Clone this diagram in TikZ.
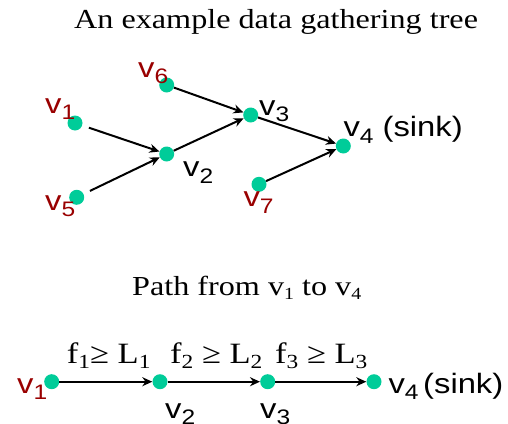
\documentclass[tikz,border=0pt]{standalone}
\usepackage{fontspec}
\setmainfont[FakeStretch=1.17]{Liberation Serif}
\newfontfamily\arialf[FakeStretch=1.17]{Liberation Sans}
\usetikzlibrary{arrows.meta}
\definecolor{dotgreen}{HTML}{00CC99}
\definecolor{lblred}{HTML}{990000}
\newcommand\sv[1]{v\raisebox{-6.5pt}{\fontsize{21}{21}\selectfont #1}}
\newcommand\fsub[1]{\raisebox{-5.5pt}{\fontsize{20}{20}\selectfont #1}}
\newcommand\psub[1]{\raisebox{-4pt}{\fontsize{17}{17}\selectfont #1}}
\begin{document}
\begin{tikzpicture}[x=1pt,y=-1pt,
  dot/.style={circle,fill=dotgreen,inner sep=0,minimum size=15pt},
  lbl/.style={inner sep=0,anchor=base west,font=\arialf\fontsize{28}{28}\selectfont},
  ser/.style={inner sep=0,anchor=base west,font=\fontsize{27.5}{27.5}\selectfont},
  edgel/.style={inner sep=0,anchor=base west,font=\fontsize{29.5}{29.5}\selectfont},
  arr/.style={line width=2pt,-{Stealth[length=10pt,width=9pt]}}]
\useasboundingbox (0,0) rectangle (508,423);

% titles
\node[ser,font=\fontsize{27.5}{27.5}\selectfont] (title) at (74,28) {An example data gathering tree};
\node[ser] (path) at (132,295) {Path from v\psub{1} to v\psub{4}};

% top tree dots
\node[dot] (a6) at (166.7,85) {};
\node[dot] (a1) at (75,123) {};
\node[dot] (a2) at (166.7,154) {};
\node[dot] (a5) at (76.7,197.3) {};
\node[dot] (a3) at (250.7,115) {};
\node[dot] (a4) at (343.3,146) {};
\node[dot] (a7) at (259,184.3) {};

% top tree labels
\node[lbl,text=lblred] (l6) at (138,77) {\sv{6}};
\node[lbl,text=lblred] (l1) at (45,113) {\sv{1}};
\node[lbl,text=lblred] (l5) at (45,210) {\sv{5}};
\node[lbl,text=lblred] (l7) at (243.3,206.7) {\sv{7}};
\node[lbl] (l2) at (183,176.7) {\sv{2}};
\node[lbl] (l3) at (259,115) {\sv{3}};
\node[lbl] (l4) at (343.3,136.7) {\sv{4} (sink)};

% top tree arrows
\draw[arr,shorten <=7pt] (a1) -- (a2);
\draw[arr,shorten <=7pt] (a5) -- (a2);
\draw[arr] (a6) -- (a3);
\draw[arr] (a2) -- (a3);
\draw[arr] (a3) -- (a4);
\draw[arr] (a7) -- (a4);

% bottom path
\node[dot] (b1) at (51.7,381.7) {};
\node[dot] (b2) at (160,381.7) {};
\node[dot] (b3) at (267.7,381.7) {};
\node[dot] (b4) at (374,381.7) {};
\draw[arr] (b1) -- (b2);
\draw[arr] (b2) -- (b3);
\draw[arr] (b3) -- (b4);

\node[lbl,text=lblred] (m1) at (17,393.3) {\sv{1}};
\node[lbl] (m2) at (165,418) {\sv{2}};
\node[lbl] (m3) at (260,418) {\sv{3}};
\node[lbl] (m4) at (388.3,393) {\sv{4}\,(sink)};

\node[edgel] (e1) at (66.7,363) {f\fsub{1}≥ L\fsub{1}};
\node[edgel] (e2) at (170,363) {f\fsub{2} ≥ L\fsub{2}};
\node[edgel] (e3) at (275,363) {f\fsub{3} ≥ L\fsub{3}};
\end{tikzpicture}
\end{document}
